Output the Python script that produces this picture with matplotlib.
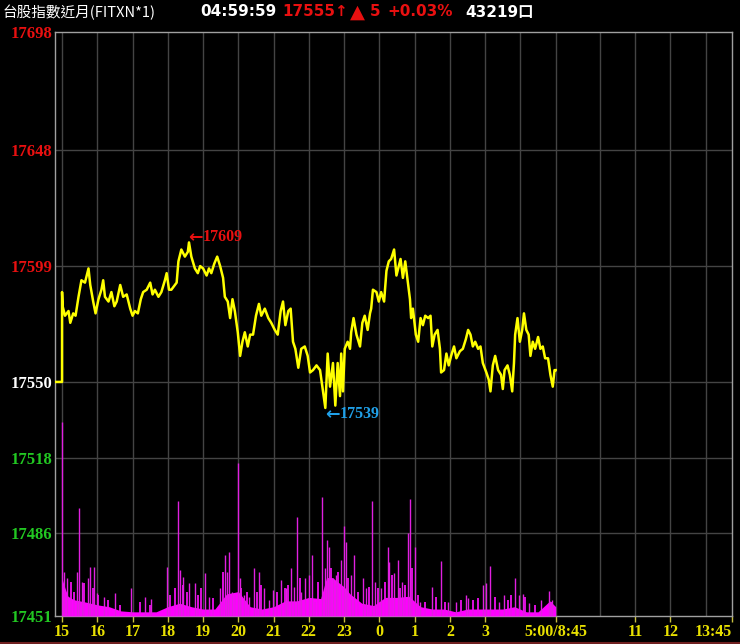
import matplotlib
matplotlib.use('Agg')
from matplotlib import pyplot as plt
from matplotlib.lines import Line2D
import numpy as np

# minutes after 15:00 (night session to 5:00 = 840, day session 8:45-13:45 follows)
price_min = [0, 1, 5, 11, 14, 19, 23, 28, 33, 39, 45, 48, 53, 57, 62, 67, 70, 73, 79, 84,
             89, 93, 99, 104, 110, 116, 120, 124, 129, 134, 138, 144, 150, 154, 158, 164, 169, 175, 178, 182,
             186, 192, 195, 198, 203, 209, 214, 216, 220, 226, 231, 235, 240, 246, 250, 254, 259, 264, 269, 274,
             277, 282, 286, 290, 294, 299, 303, 307, 311, 316, 320, 325, 330, 335, 339, 345, 351, 356, 362, 367,
             372, 376, 380, 385, 389, 393, 397, 402, 407, 413, 418, 422, 427, 433, 439, 444, 448, 452, 456, 461,
             465, 469, 473, 475, 478, 481, 486, 490, 492, 496, 501, 507, 511, 515, 520, 524, 526, 529, 535, 539,
             543, 548, 552, 556, 560, 565, 569, 572, 576, 580, 584, 589, 592, 594, 597, 602, 606, 610, 614, 618,
             623, 627, 630, 634, 639, 643, 645, 650, 654, 658, 662, 667, 671, 677, 682, 687, 691, 695, 699, 703,
             708, 712, 716, 722, 726, 729, 733, 737, 742, 747, 750, 753, 758, 762, 766, 769, 771, 775, 779, 783,
             786, 790, 794, 797, 801, 805, 810, 814, 818, 822, 827, 831, 835, 838, 840]
price_val = [17588, 17582, 17578, 17580, 17575, 17579, 17578, 17586, 17593, 17592, 17598, 17591, 17584, 17579, 17585, 17589, 17593, 17586, 17584, 17588,
             17582, 17584, 17591, 17586, 17587, 17581, 17578, 17580, 17579, 17585, 17588, 17589, 17592, 17587, 17589, 17586, 17588, 17593, 17596, 17589,
             17589, 17591, 17592, 17601, 17606, 17603, 17605, 17609, 17603, 17598, 17596, 17599, 17598, 17595, 17598, 17596, 17600, 17603, 17599, 17594,
             17586, 17584, 17577, 17585, 17580, 17571, 17561, 17567, 17571, 17565, 17570, 17570, 17578, 17583, 17578, 17581, 17577, 17575, 17572, 17570,
             17580, 17584, 17574, 17580, 17581, 17567, 17564, 17556, 17564, 17565, 17561, 17554, 17555, 17557, 17555, 17546, 17539, 17562, 17548, 17558,
             17540, 17558, 17544, 17562, 17546, 17564, 17567, 17564, 17571, 17577, 17570, 17565, 17575, 17578, 17572, 17579, 17581, 17589, 17588, 17584,
             17588, 17584, 17597, 17601, 17602, 17606, 17595, 17598, 17602, 17594, 17601, 17591, 17585, 17577, 17581, 17570, 17567, 17577, 17574, 17578,
             17577, 17578, 17565, 17570, 17572, 17564, 17554, 17555, 17562, 17557, 17561, 17565, 17560, 17563, 17564, 17568, 17572, 17570, 17565, 17567,
             17564, 17565, 17558, 17554, 17551, 17546, 17557, 17561, 17555, 17553, 17547, 17555, 17557, 17553, 17546, 17558, 17570, 17577, 17567, 17572,
             17579, 17572, 17570, 17561, 17567, 17564, 17569, 17564, 17565, 17560, 17560, 17553, 17548, 17555, 17555]
ref_price = 17550

# volume (contracts per minute): tall single-minute spikes, medium bars, dense base level
vol_spike_min = [0, 3, 8, 25, 29, 34, 45, 48, 55, 60, 72, 90, 117, 141, 152, 178, 198, 201, 205, 216,
                 226, 243, 250, 269, 277, 280, 284, 290, 299, 302, 310, 318, 327, 335, 343, 352, 359, 373, 381, 390,
                 394, 399, 407, 413, 420, 425, 443, 447, 451, 455, 461, 467, 474, 480, 483, 491, 497, 512, 518, 527,
                 533, 542, 554, 557, 565, 571, 578, 589, 592, 600, 609, 630, 644, 657, 671, 688, 691, 716, 722, 729,
                 744, 752, 770, 778, 785, 794, 815, 829, 834]
vol_spike_qty = [834, 189, 163, 189, 464, 146, 163, 211, 211, 99, 82, 99, 120, 82, 73, 211, 495, 198, 168, 142,
                 142, 185, 82, 120, 262, 189, 275, 103, 658, 163, 90, 82, 206, 189, 120, 69, 112, 155, 120, 206,
                 125, 426, 103, 163, 176, 262, 512, 206, 327, 297, 163, 176, 241, 387, 318, 176, 262, 163, 120, 495,
                 146, 120, 297, 232, 185, 241, 146, 357, 503, 297, 60, 125, 237, 60, 60, 90, 77, 133, 142, 215,
                 60, 90, 163, 90, 95, 56, 69, 108, 69]
vol_mid_min = [16, 21, 38, 52, 62, 79, 99, 133, 150, 184, 192, 206, 212, 232, 237, 257, 274, 294, 305, 314,
               331, 339, 365, 379, 385, 405, 430, 436, 458, 470, 487, 504, 523, 538, 549, 561, 575, 583, 595, 606,
               617, 637, 651, 679, 699, 708, 736, 759, 764, 787, 804, 832]
vol_mid_qty = [146, 103, 142, 120, 90, 69, 47, 60, 47, 90, 120, 133, 103, 90, 120, 77, 189, 90, 120, 103,
               103, 133, 103, 120, 133, 163, 60, 146, 206, 189, 163, 103, 125, 120, 146, 176, 120, 133, 206, 90,
               60, 82, 60, 69, 69, 77, 82, 69, 90, 82, 47, 60]
vol_base_min = [0, 5, 10, 20, 40, 60, 80, 100, 120, 140, 160, 180, 200, 220, 240, 260, 280, 300, 320, 340,
                360, 380, 400, 420, 440, 450, 460, 470, 480, 490, 510, 530, 550, 570, 590, 610, 630, 650, 670, 690,
                710, 730, 750, 770, 790, 810, 830, 840]
vol_base_qty = [160, 120, 85, 70, 60, 48, 40, 22, 18, 18, 18, 40, 55, 40, 30, 30, 95, 105, 40, 30,
                40, 65, 65, 80, 75, 165, 165, 145, 125, 95, 55, 45, 80, 80, 85, 40, 30, 30, 18, 30,
                30, 30, 30, 40, 18, 18, 65, 40]

y_ticks = [17451, 17486, 17518, 17550, 17599, 17648, 17698]
x_tick_pos = [0, 60, 120, 180, 240, 300, 360, 420, 480, 540, 600, 660, 720, 840, 975, 1035, 1140]
x_tick_lab = ['15', '16', '17', '18', '19', '20', '21', '22', '23', '0', '1', '2', '3',
              '5:00/8:45', '11', '12', '13:45']
x_grid = [0, 60, 120, 180, 240, 300, 360, 420, 480, 540, 600, 660, 720, 780, 840, 915, 975, 1035, 1095]

serif = ['Liberation Serif', 'DejaVu Serif']
cjk = ['Noto Sans CJK TC', 'DejaVu Sans']
bold = ['DejaVu Sans', 'Noto Sans CJK TC']
red = '#e81010'

fig = plt.figure(figsize=(7.4, 6.44), dpi=100, facecolor='black')
ax = fig.add_axes([55/740, 28/644, 677/740, 584/644])
ax.set_facecolor('black')
ax.set_xlim(-12, 1140)
ax.set_ylim(y_ticks[0], y_ticks[-1])

for v in x_grid:
    ax.axvline(v, color='#444444', lw=1, zorder=1)
for v in y_ticks[1:-1]:
    ax.axhline(v, color='#444444', lw=1, zorder=1)

# volume on a hidden twin axis
axv = ax.twinx()
axv.set_ylim(0, 2510)
axv.axis('off')
axv.fill_between(vol_base_min, 0, vol_base_qty, color='#ff00ff', lw=0)
axv.vlines(vol_mid_min, 0, vol_mid_qty, color='#f010f0', lw=1.3)
axv.vlines(vol_spike_min, 0, vol_spike_qty, color='#e020e0', lw=1)

# price line, with flat pre-open segment at the reference price
px = [-12, price_min[0]] + price_min
py = [ref_price, ref_price] + price_val
ax.plot(px, py, color='#ffff00', lw=1.8, zorder=5)

imax = int(np.argmax(price_val))
imin = int(np.argmin(price_val))
for i, col, dy in [(imax, red, 2.4), (imin, '#20a0e8', -2.6)]:
    ax.annotate('\u2190', (price_min[i] - 1, price_val[i] + dy), color=col, fontsize=12.5,
                fontweight='bold', family='DejaVu Sans', ha='left', va='center')
    ax.annotate('%d' % price_val[i], (price_min[i] - 1, price_val[i] + dy), xytext=(10.5, 0),
                textcoords='offset points', color=col, fontsize=11.5, fontweight='bold',
                family=serif, ha='left', va='center')

ax.set_yticks(y_ticks)
ax.set_yticklabels([str(v) for v in y_ticks], family=serif, fontweight='bold', fontsize=12)
for lab, v in zip(ax.get_yticklabels(), y_ticks):
    if v > ref_price:
        lab.set_color(red)
    elif v < ref_price:
        lab.set_color('#22c822')
    else:
        lab.set_color('white')
ax.tick_params(axis='y', length=0, pad=2)

ax.set_xticks(x_tick_pos)
ax.set_xticklabels(x_tick_lab, family=serif, fontweight='bold', fontsize=11.5, color='#e8e000')
ax.get_xticklabels()[-1].set_ha('right')
ax.tick_params(axis='x', length=4, width=1, color='#c8c040', pad=1.5)

for s in ax.spines.values():
    s.set_color('#a0a0a0')
    s.set_linewidth(1)

# header line
hy = 1 - 12/644
fig.text(3/740, hy, '台股指數近月(FITXN*1)', color='white', fontsize=10.5,
         family=cjk, ha='left', va='center')
fig.text(200/740, hy, '04:59:59', color='white', fontsize=11, fontweight='bold',
         family=bold, ha='left', va='center')
fig.text(282/740, hy, '17555\u2191', color=red, fontsize=11, fontweight='bold',
         family=bold, ha='left', va='center')
fig.text(350/740, hy, '\u25b2', color=red, fontsize=14, family=bold, ha='left', va='center')
fig.text(370/740, hy, '5', color=red, fontsize=11, fontweight='bold',
         family=bold, ha='left', va='center')
fig.text(387/740, hy, '+0.03%', color=red, fontsize=11, fontweight='bold',
         family=bold, ha='left', va='center')
fig.text(465/740, hy, '43219口', color='white', fontsize=11, fontweight='bold',
         family=bold, ha='left', va='center')

fig.add_artist(Line2D([0, 1], [1/644, 1/644], transform=fig.transFigure, color='#702020', lw=1.5))

fig.savefig('out.png', dpi=100, facecolor='black')
